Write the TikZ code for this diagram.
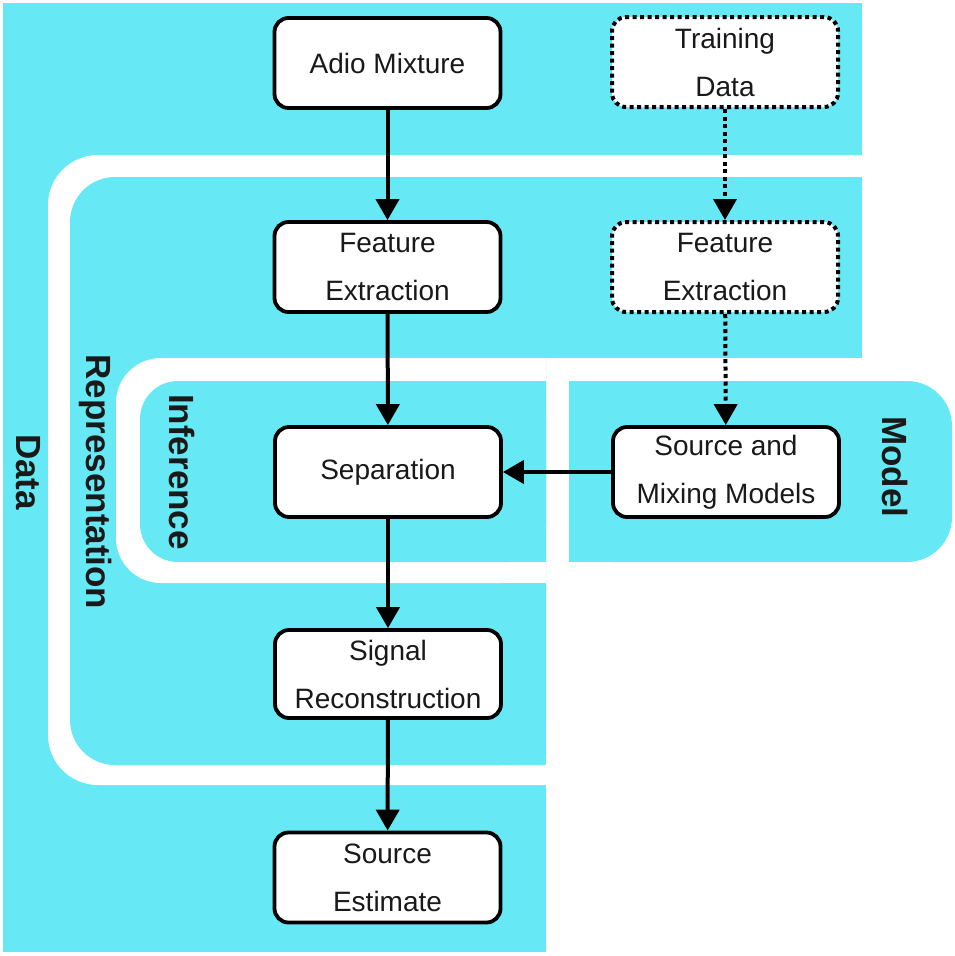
\documentclass[tikz,border=0pt]{standalone}
\usepackage{fontspec}
\setmainfont{Liberation Sans}
\usetikzlibrary{arrows.meta}
\definecolor{band}{RGB}{102,233,245}
\begin{document}
\begin{tikzpicture}[x=1pt,y=-1pt,
  stagebox/.style={draw=black, line width=3.8pt, rounded corners=14pt, fill=white,
    minimum width=226pt, minimum height=90pt, inner sep=2pt, align=center,
    text=black!90, font=\fontsize{28pt}{48pt}\selectfont},
  trainbox/.style={stagebox, dash pattern=on 4pt off 3.5pt, line width=4pt},
  flow/.style={line width=4pt, -{Triangle[length=21pt,width=23pt]}},
  dotflow/.style={flow, dash pattern=on 4pt off 3.5pt},
  layer/.style={font=\fontsize{35pt}{40pt}\selectfont\bfseries, rotate=-90, text=black!90}]
\useasboundingbox (0,0) rectangle (954,956);

% Data layer
\fill[band] (3,3) rectangle (862,155);
\fill[band] (3,3) rectangle (546,952);
% white gap around the representation layer
\fill[white, rounded corners=50pt] (48,155) rectangle (954,785);
\fill[white] (100,155) rectangle (954,785);
% Representation layer
\fill[band, rounded corners=45pt] (70,177) rectangle (546,765);
\fill[band] (120,177) rectangle (546,765);
\fill[band] (500,177) rectangle (862,358);
% white gap around the inference layer
\fill[white, rounded corners=45pt] (116,358) rectangle (546,583);
\fill[white] (165,358) rectangle (546,583);
% Inference layer
\fill[band, rounded corners=38pt] (140,381) rectangle (546,562);
\fill[band] (185,381) rectangle (546,562);
% Model layer
\fill[band, rounded corners=45pt] (569,381) rectangle (952,562);
\fill[band] (569,381) rectangle (900,562);

% layer titles
\node[layer] (ldata) at (28,472) {Data};
\node[layer] (lrep) at (96,482) {Representation};
\node[layer] (linf) at (182,472) {Inference};
\node[layer] (lmod) at (895,467) {Model};

% processing stages
\node[stagebox] (am) at (387.5,63) {Adio Mixture};
\node[stagebox] (fe1) at (387.5,267) {Feature\\Extraction};
\node[stagebox] (sep) at (388,472) {Separation};
\node[stagebox, minimum height=88pt] (sr) at (388,674) {Signal\\Reconstruction};
\node[stagebox] (se) at (387.5,877.5) {Source\\Estimate};

% training branch
\node[trainbox] (td) at (725,62) {Training\\Data};
\node[trainbox] (fe2) at (725,267) {Feature\\Extraction};
\node[stagebox] (smm) at (726,472) {Source and\\Mixing Models};

% connectors
\draw[flow] (am) -- (fe1);
\draw[flow] (fe1) -- (sep);
\draw[flow] (sep) -- (sr);
\draw[flow] (sr) -- (se);
\draw[flow] (smm) -- (sep);
\draw[dotflow] (td) -- (fe2);
\draw[dotflow] (fe2) -- (smm);
\end{tikzpicture}
\end{document}
